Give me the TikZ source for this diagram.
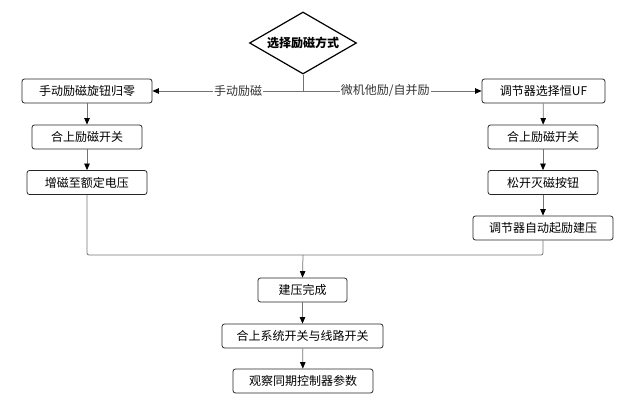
\documentclass[tikz,border=0pt]{standalone}
\usepackage{fontspec}
\setmainfont{Noto Sans CJK SC}
\usetikzlibrary{arrows.meta,shapes.geometric}
\begin{document}
\begin{tikzpicture}[x=1pt,y=-1pt,
  font=\fontsize{12pt}{14pt}\selectfont,
  stepbox/.style={draw=black!85,line width=0.8pt,rounded corners=2.5pt,fill=white,
    minimum height=24pt,inner sep=0pt,anchor=center},
  decision/.style={diamond,draw=black,line width=1.2pt,aspect=1.7,inner sep=0pt,
    minimum width=107pt,minimum height=62pt,font=\fontsize{12pt}{14pt}\selectfont\bfseries},
  conn/.style={draw=black!55,line width=0.75pt},
  arr/.style={conn,-{Triangle[length=6.5pt,width=5.5pt,color=black]}},
  lbl/.style={fill=white,inner sep=1pt,text=black!80}]
\useasboundingbox (0,0) rectangle (635,406);
\node[decision] (d) at (303,43) {选择励磁方式};
\node[stepbox,minimum width=130pt] (L1) at (87,91) {手动励磁旋钮归零};
\node[stepbox,minimum width=110pt] (L2) at (87,137) {合上励磁开关};
\node[stepbox,minimum width=120pt] (L3) at (87,182.5) {增磁至额定电压};
\node[stepbox,minimum width=123pt] (R1) at (543.5,91) {调节器选择恒UF};
\node[stepbox,minimum width=110pt] (R2) at (543,137) {合上励磁开关};
\node[stepbox,minimum width=110pt] (R3) at (543,182.5) {松开灭磁按钮};
\node[stepbox,minimum width=140pt] (R4) at (543,228) {调节器自动起励建压};
\node[stepbox,minimum width=89pt] (B1) at (302.5,290) {建压完成};
\node[stepbox,minimum width=161pt] (B2) at (302.5,336) {合上系统开关与线路开关};
\node[stepbox,minimum width=140pt] (B3) at (303,381) {观察同期控制器参数};
\coordinate (j1) at (303,91);
\coordinate (j2) at (303,255);
\draw[conn] (d.south) -- (j1);
\draw[arr] (j1) -- node[lbl,pos=0.43] {手动励磁} (L1.east);
\draw[arr] (j1) -- node[lbl,pos=0.46] {微机他励/自并励} (R1.west);
\draw[arr] (L1) -- (L2);
\draw[arr] (L2) -- (L3);
\draw[arr] (R1) -- (R2);
\draw[arr] (R2) -- (R3);
\draw[arr] (R3) -- (R4);
\draw[conn,rounded corners=2pt] (L3.south) |- (j2);
\draw[conn,rounded corners=2pt] (R4.south) |- (j2);
\draw[arr] (j2) -- (B1.north);
\draw[arr] (B1) -- (B2);
\draw[arr] (B2) -- (B3);
\end{tikzpicture}
\end{document}
